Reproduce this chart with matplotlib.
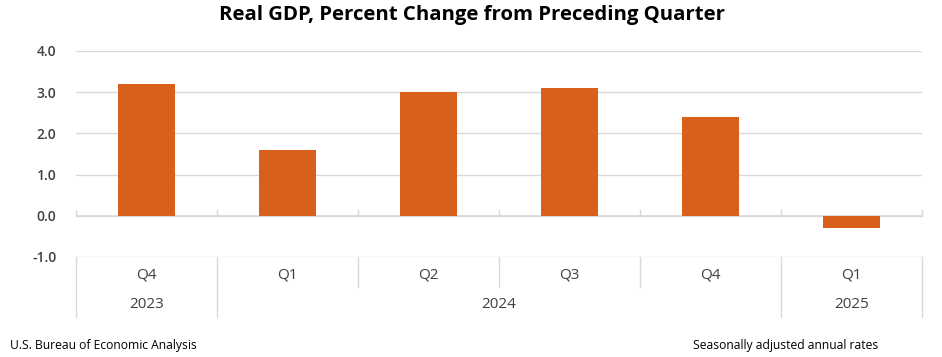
import numpy as np
import matplotlib.pyplot as plt

quarters = ['Q4', 'Q1', 'Q2', 'Q3', 'Q4', 'Q1']
years = ['2023', '2024', '2025']
year_spans = [(0, 0), (1, 4), (5, 5)]  # first and last quarter index per year
gdp_change = [3.2, 1.6, 3.0, 3.1, 2.4, -0.3]
y_ticks = [-1.0, 0.0, 1.0, 2.0, 3.0, 4.0]

bar_color = '#D9601A'
grid_color = '#D9D9D9'
text_color = '#404040'

plt.rcParams['font.family'] = ['Open Sans', 'DejaVu Sans']

W, H = 942, 357
fig = plt.figure(figsize=(W / 100, H / 100), dpi=100)
ax = fig.add_axes([76 / W, (H - 257) / H, (922 - 76) / W, (257 - 51) / H])

x = np.arange(len(gdp_change))
ax.bar(x, gdp_change, width=0.4, color=bar_color, zorder=3)

ax.set_xlim(-0.5, len(x) - 0.5)
ax.set_ylim(y_ticks[0], y_ticks[-1])
ax.set_yticks(y_ticks)
ax.set_yticklabels([f'{v:.1f}' for v in y_ticks], fontweight='semibold')
ax.tick_params(axis='y', length=0, pad=14, labelsize=10, labelcolor=text_color)
ax.set_xticks([])
for s in ax.spines.values():
    s.set_visible(False)
ax.grid(axis='y', color=grid_color, linewidth=1, zorder=0)
ax.axhline(0, color=grid_color, linewidth=1.2, zorder=1)

# small tick marks on the zero line at category boundaries
bounds = np.arange(len(x) + 1) - 0.5
for b in bounds:
    ax.plot([b, b], [0, 0.15], color=grid_color, linewidth=1, zorder=1, clip_on=False)

# category table below the plot
tr = ax.get_xaxis_transform()
fig_h_axes = (257 - 51)
def ay(py):
    # pixel y in figure -> axes fraction
    return (257 - py) / fig_h_axes

year_bounds = [-0.5] + [e + 0.5 for _, e in year_spans]
for b in bounds:
    bottom = ay(317) if b in year_bounds else ay(287)
    ax.plot([b, b], [0, bottom], transform=tr, color=grid_color, linewidth=1, clip_on=False)

for i, q in enumerate(quarters):
    ax.text(i, ay(275), q, transform=tr, ha='center', va='center', fontsize=11, color=text_color)
for yr, (s, e) in zip(years, year_spans):
    ax.text((s + e) / 2, ay(305), yr, transform=tr, ha='center', va='center', fontsize=11, color=text_color)

fig.text(472 / W, 1 - 15 / H, 'Real GDP, Percent Change from Preceding Quarter',
         ha='center', va='center', fontsize=14.7, fontweight='bold', color='#000000')
fig.text(10 / W, 1 - 345 / H, 'U.S. Bureau of Economic Analysis',
         ha='left', va='center', fontsize=8.7, color='#000000')
fig.text(878 / W, 1 - 345 / H, 'Seasonally adjusted annual rates',
         ha='right', va='center', fontsize=8.7, color='#000000')

fig.savefig('out.png', dpi=100)
